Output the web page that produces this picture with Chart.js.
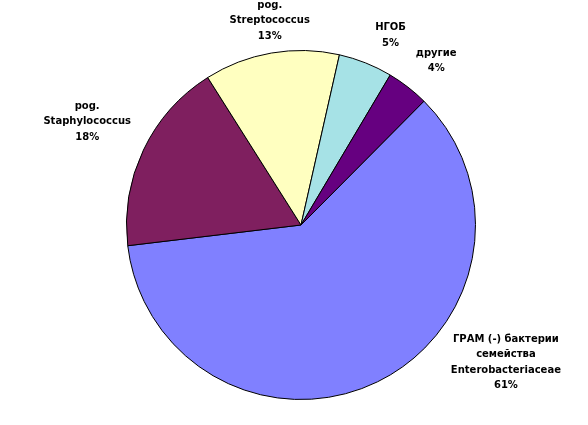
<!DOCTYPE html>
<html>
<head>
<meta charset="utf-8">
<script src="https://cdn.jsdelivr.net/npm/chart.js@4"></script>
<style>
html,body{margin:0;padding:0;background:#fff;}
#wrap{width:588px;height:425px;position:relative;}
</style>
</head>
<body>
<div id="wrap"><canvas id="c" width="588" height="425"></canvas></div>
<script>
const categories = [
  ['ГРАМ (-) бактерии', 'семейства', 'Enterobacteriaceae'],
  ['pog.', 'Staphylococcus'],
  ['pog.', 'Streptococcus'],
  ['НГОБ'],
  ['другие']
];
const values = [60.6, 17.9, 12.5, 5.0, 3.9];
const colors = ['#8080FF', '#7F1F5F', '#FFFFC0', '#A6E2E6', '#660080'];

// label placement: angle (deg, clockwise from top) and distance as a fraction of the radius
const labelPlacement = [
  {angle: 123.8, dist: 1.413},
  {angle: 295.8, dist: 1.361},
  {angle: 351.3, dist: 1.185},
  {angle: 25.3, dist: 1.201},
  {angle: 39.5, dist: 1.218}
];

const pieLabels = {
  id: 'pieLabels',
  afterDatasetsDraw(chart) {
    const ctx = chart.ctx;
    const meta = chart.getDatasetMeta(0);
    const total = values.reduce((a, b) => a + b, 0);
    ctx.save();
    ctx.font = 'bold 10px "DejaVu Sans"';
    ctx.fillStyle = '#000';
    ctx.textAlign = 'center';
    ctx.textBaseline = 'middle';
    const lh = 15.5;
    meta.data.forEach((arc, i) => {
      const p = labelPlacement[i];
      const a = p.angle * Math.PI / 180;
      const r = arc.outerRadius * p.dist;
      const cx = arc.x + Math.sin(a) * r;
      const cy = arc.y - Math.cos(a) * r;
      const lines = categories[i].concat([Math.round(values[i] / total * 100) + '%']);
      const top = cy - (lines.length - 1) * lh / 2;
      lines.forEach((t, k) => ctx.fillText(t, cx, top + k * lh));
    });
    ctx.restore();
  }
};

new Chart(document.getElementById('c'), {
  type: 'pie',
  data: {
    labels: categories.map(c => c.join(' ')),
    datasets: [{
      data: values,
      backgroundColor: colors,
      borderColor: '#000',
      borderWidth: 1
    }]
  },
  options: {
    responsive: false,
    animation: false,
    rotation: 44.8,
    layout: {padding: {top: 50, bottom: 25, left: 126, right: 112}},
    plugins: {legend: {display: false}, tooltip: {enabled: false}},
    events: []
  },
  plugins: [pieLabels]
});
</script>
</body>
</html>
